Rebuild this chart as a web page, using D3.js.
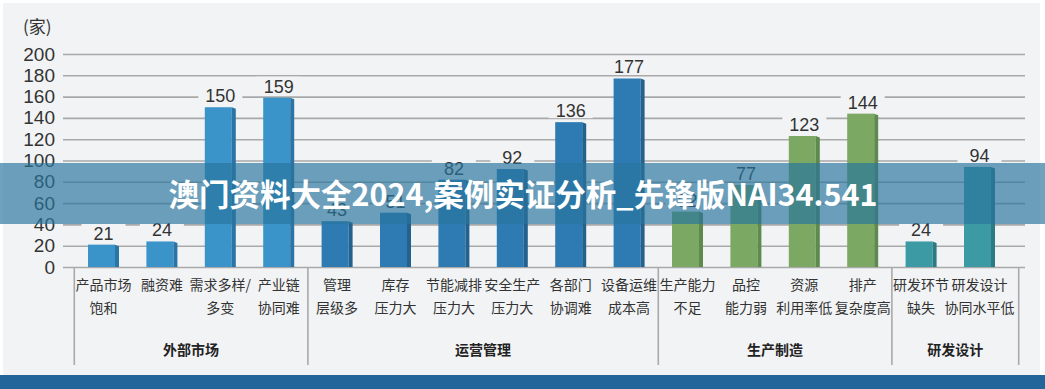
<!DOCTYPE html>
<html>
<head>
  <meta charset="utf-8">
  <title>chart</title>
  <script src="https://d3js.org/d3.v7.min.js"></script>
  <style>
    body, html { margin: 0; padding: 0; background: #ffffff; }
    svg text { font-family: "Liberation Sans", Arial, sans-serif; }
    .cn { font-family: "Noto Sans CJK SC", sans-serif; }
  </style>
</head>
<body>
  <div id="chart"></div>

  <script>
    // data
    var categories = [
      ["产品市场", "饱和"], ["融资难", ""], ["需求多样/", "多变"], ["产业链", "协同难"],
      ["管理", "层级多"], ["库存", "压力大"], ["节能减排", "压力大"], ["安全生产", "压力大"],
      ["各部门", "协调难"], ["设备运维", "成本高"],
      ["生产能力", "不足"], ["品控", "能力弱"], ["资源", "利用率低"], ["排产", "复杂度高"],
      ["研发环节", "缺失"], ["研发设计", "协同水平低"]
    ];
    var values = [21, 24, 150, 159, 43, 51, 82, 92, 136, 177, 52, 77, 123, 144, 24, 94];
    var groups = ["外部市场", "运营管理", "生产制造", "研发设计"];
    var groupOf = [0, 0, 0, 0, 1, 1, 1, 1, 1, 1, 2, 2, 2, 2, 3, 3];
    var yTicks = [0, 20, 40, 60, 80, 100, 120, 140, 160, 180, 200];
    var unitLabel = "(家)";
    var bannerText = "澳门资料大全2024,案例实证分析_先锋版NAI34.541";

    // colours per group: front, side
    var front = ["#3a94c9", "#2e7bb4", "#7ba964", "#3b9aa3"];
    var side = ["#2a74a6", "#23618f", "#5e8a4d", "#2c7b83"];

    var W = 1045, H = 389;
    var svg = d3.select("#chart").append("svg")
      .attr("width", W)
      .attr("height", H);

    // page background
    svg.append("rect").attr("x", 3).attr("y", 3).attr("width", 1037).attr("height", 372)
      .attr("fill", "#f2f3f5");
    svg.append("rect").attr("x", 0).attr("y", 375).attr("width", W).attr("height", 14)
      .attr("fill", "#22659a");

    var y = d3.scaleLinear().domain([0, 200]).range([267, 54]);
    var x = d3.scaleBand()
      .domain(d3.range(categories.length))
      .range([74.3, 1008.7])
      .padding(0);

    // grid + y labels
    var yAxis = svg.append("g")
      .attr("transform", "translate(1025,0)")
      .call(d3.axisLeft(y).tickValues(yTicks).tickSize(962).tickPadding(8));
    yAxis.select(".domain").remove();
    yAxis.selectAll(".tick line").attr("stroke", "#a9a9a9").attr("stroke-width", 1.6);
    yAxis.selectAll(".tick text")
      .attr("fill", "#333")
      .style("font-size", "19px")
      .style("font-family", "'Liberation Sans', Arial, sans-serif");

    svg.append("text")
      .attr("class", "cn")
      .attr("x", 23).attr("y", 33)
      .attr("fill", "#333")
      .style("font-size", "17px")
      .text(unitLabel);

    var bw = 27, sw = 4;

    var bars = svg.append("g").selectAll("g")
      .data(values)
      .enter().append("g");

    // front face
    bars.append("rect")
      .attr("x", function (d, i) { return x(i) + x.bandwidth() / 2 - (bw + sw) / 2; })
      .attr("y", function (d) { return y(d); })
      .attr("width", bw)
      .attr("height", function (d) { return y(0) - y(d); })
      .attr("fill", function (d, i) { return front[groupOf[i]]; });

    // side face
    bars.append("path")
      .attr("d", function (d, i) {
        var x0 = x(i) + x.bandwidth() / 2 - (bw + sw) / 2 + bw;
        return "M" + x0 + "," + y(d) + "L" + (x0 + sw) + "," + (y(d) + 1.5) +
          "L" + (x0 + sw) + "," + y(0) + "L" + x0 + "," + y(0) + "Z";
      })
      .attr("fill", function (d, i) { return side[groupOf[i]]; });

    // value labels with a patch of background behind
    bars.append("rect")
      .attr("x", function (d, i) { return x(i) + x.bandwidth() / 2 - 22; })
      .attr("y", function (d) { return y(d) - 21; })
      .attr("width", 44)
      .attr("height", 17)
      .attr("fill", "#f2f3f5");

    bars.append("text")
      .attr("x", function (d, i) { return x(i) + x.bandwidth() / 2; })
      .attr("y", function (d) { return y(d) - 5; })
      .attr("text-anchor", "middle")
      .attr("fill", "#333")
      .style("font-size", "18px")
      .text(function (d) { return d; });

    // category labels
    var cats = svg.append("g").selectAll("text")
      .data(categories)
      .enter().append("text")
      .attr("class", "cn")
      .attr("text-anchor", "middle")
      .attr("fill", "#333")
      .style("font-size", "14px");
    cats.append("tspan")
      .attr("x", function (d, i) { return x(i) + x.bandwidth() / 2; })
      .attr("y", 290)
      .text(function (d) { return d[0]; });
    cats.append("tspan")
      .attr("x", function (d, i) { return x(i) + x.bandwidth() / 2; })
      .attr("y", 313)
      .text(function (d) { return d[1]; });

    // group dividers and names
    var bounds = groups.map(function (g, k) {
      var idx = d3.range(groupOf.length).filter(function (i) { return groupOf[i] === k; });
      return [x(idx[0]), x(idx[idx.length - 1]) + x.step()];
    });
    var edges = [bounds[0][0]].concat(bounds.map(function (b) { return b[1]; }));
    edges[edges.length - 1] += 10;

    svg.append("g").selectAll("line")
      .data(edges)
      .enter().append("line")
      .attr("x1", function (d) { return d; })
      .attr("x2", function (d) { return d; })
      .attr("y1", 267)
      .attr("y2", 365)
      .attr("stroke", "#a9a9a9")
      .attr("stroke-width", 1.6);

    svg.append("g").selectAll("text")
      .data(groups)
      .enter().append("text")
      .attr("class", "cn")
      .attr("x", function (d, k) { return (edges[k] + edges[k + 1]) / 2; })
      .attr("y", 355)
      .attr("text-anchor", "middle")
      .attr("fill", "#222")
      .style("font-size", "14px")
      .style("font-weight", "bold")
      .text(function (d) { return d; });

    // overlay banner
    svg.append("rect")
      .attr("x", 0).attr("y", 163).attr("width", W).attr("height", 61)
      .attr("fill", "rgb(40,117,157)")
      .attr("fill-opacity", 0.67);
    svg.append("text")
      .attr("class", "cn")
      .attr("x", 523).attr("y", 206)
      .attr("text-anchor", "middle")
      .attr("fill", "#ffffff")
      .style("font-size", "30.5px")
      .style("font-weight", "bold")
      .text(bannerText);
  </script>
</body>
</html>
